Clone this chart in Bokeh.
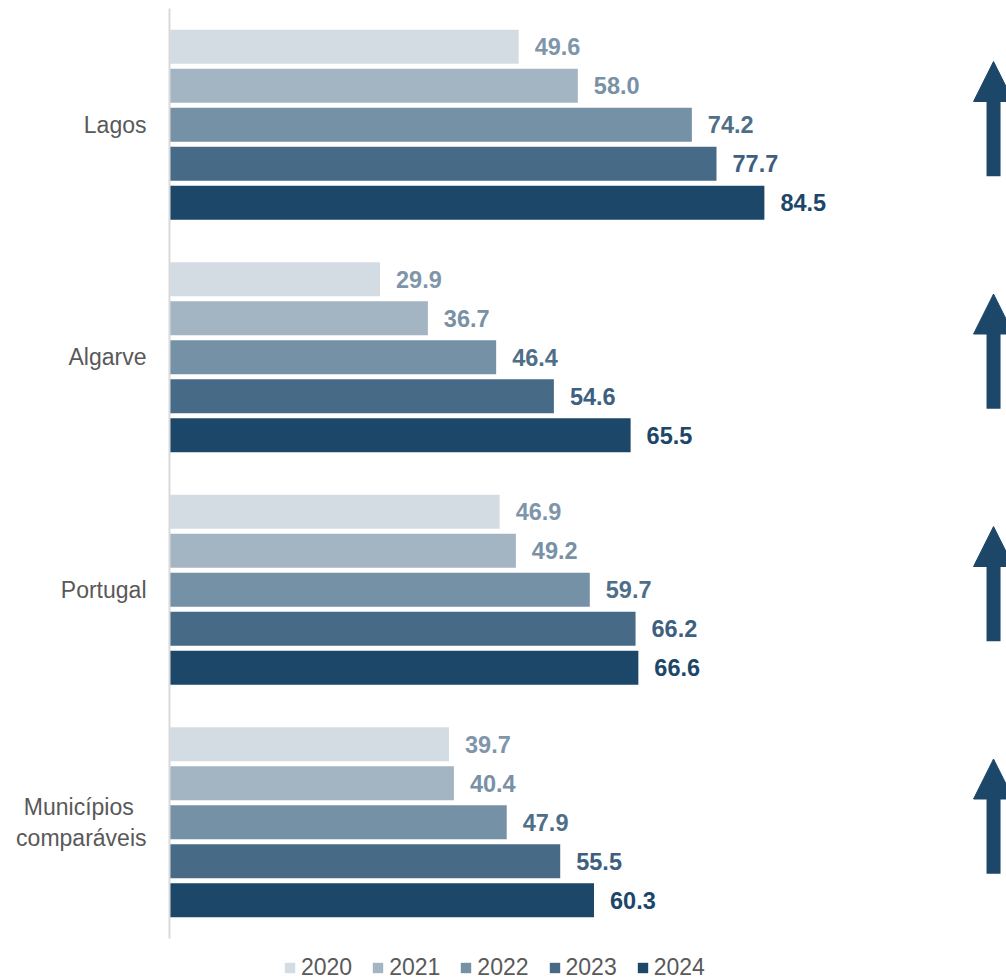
from bokeh.plotting import figure
from bokeh.models import Range1d, FixedTicker, Legend, LegendItem, Arrow, NormalHead, ColumnDataSource
from bokeh.core.properties import value
from bokeh.embed import file_html
from bokeh.resources import INLINE

# ---- data ----
categories = ["Lagos", "Algarve", "Portugal", "Municípios\u00a0\u00a0\ncomparáveis"]
years = ["2020", "2021", "2022", "2023", "2024"]
v2020 = [49.6, 29.9, 46.9, 39.7]
v2021 = [58.0, 36.7, 49.2, 40.4]
v2022 = [74.2, 46.4, 59.7, 47.9]
v2023 = [77.7, 54.6, 66.2, 55.5]
v2024 = [84.5, 65.5, 66.6, 60.3]
series = [v2020, v2021, v2022, v2023, v2024]
trend = ["up", "up", "up", "up"]

bar_colors = ["#D4DCE3", "#A3B5C3", "#7591A6", "#476A86", "#1C4769"]
label_colors = ["#7F96AA", "#7891A6", "#4F6F89", "#3E6080", "#1C4769"]
FONT = "Liberation Sans"

# ---- layout constants ----
W, H = 1006, 979
LEFT, TOP = 169, 8
PX_PER_UNIT_X = 7.04
UNIT_PX = 232.5            # pixels per category slot
pitch = 39.0 / UNIT_PX     # bar pitch in data units
bar_h = 34.0 / UNIT_PX
frame_h = H - TOP
y_bottom = -0.5 + frame_h / UNIT_PX

p = figure(width=W, height=H, output_backend="svg", toolbar_location=None,
           x_range=Range1d(0, (W - LEFT) / PX_PER_UNIT_X), y_range=Range1d(y_bottom, -0.5),
           min_border_left=LEFT, min_border_right=0, min_border_top=TOP, min_border_bottom=0)
p.outline_line_color = None
p.grid.visible = False
p.xaxis.visible = False
p.background_fill_color = "white"
p.border_fill_color = "white"

legend_items = []
for j, (yr, vals) in enumerate(zip(years, series)):
    ys = [i + (j - 2) * pitch for i in range(len(categories))]
    src = ColumnDataSource(dict(y=ys, right=vals, lab=[f"{v:.1f}" for v in vals]))
    r = p.hbar(y="y", left=0, right="right", height=bar_h, source=src,
               fill_color=bar_colors[j], line_color=None)
    p.text(x="right", y="y", text="lab", source=src, x_offset=16,
           text_align="left", text_baseline="middle",
           text_font=value(FONT), text_font_style="bold",
           text_font_size="23.5px", text_color=label_colors[j])
    legend_items.append(LegendItem(label=yr, renderers=[r]))

# trend arrows
for i, t in enumerate(trend):
    if t == "up":
        p.add_layout(Arrow(end=NormalHead(size=40, fill_color="#1C4769", line_color="#1C4769", line_width=1),
                           x_start=117.05, y_start=i + 0.222, x_end=117.05, y_end=i - 0.272,
                           line_color="#1C4769", line_width=14, line_cap="butt"))

# y axis
yax = p.yaxis[0]
yax.ticker = FixedTicker(ticks=list(range(len(categories))))
yax.major_label_overrides = {i: c for i, c in enumerate(categories)}
yax.bounds = (-0.5, 3.5)
yax.axis_line_color = "#D9D9D9"
yax.axis_line_width = 2
yax.major_tick_line_color = None
yax.minor_tick_line_color = None
yax.major_label_standoff = 17
yax.major_label_text_font = FONT
yax.major_label_text_font_size = "23px"
yax.major_label_text_color = "#595959"

legend = Legend(items=legend_items, orientation="horizontal", location=(114, -2),
                glyph_width=13, glyph_height=13, label_standoff=5, spacing=19,
                padding=0, margin=0, border_line_color=None, background_fill_alpha=0,
                label_text_font=FONT, label_text_font_size="23px", label_text_color="#595959")
p.add_layout(legend)

open("out.html", "w").write(file_html(p, INLINE))
